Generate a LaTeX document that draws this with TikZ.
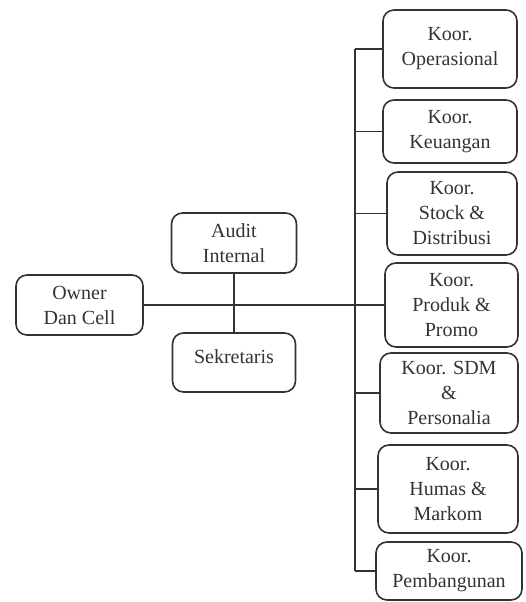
\documentclass[tikz,border=0pt]{standalone}
\usepackage{fontspec}
\setmainfont{Liberation Serif}
\begin{document}
\begin{tikzpicture}[x=1pt, y=-1pt,
  unit/.style={draw=black!80, line width=1.6pt, rounded corners=11pt, align=center,
    font=\fontsize{20}{25}\selectfont, text=black!80, inner sep=0pt},
  link/.style={draw=black!80, line width=1.6pt}]
  \useasboundingbox (0,0) rectangle (525,602);

  % --- owner, audit and secretary ---
  \node[unit, minimum width=127, minimum height=60] (owner) at (79.5,305) {Owner\\Dan Cell};
  \node[unit, minimum width=125, minimum height=60] (audit) at (234,243) {Audit\\Internal};
  \node[unit, minimum width=123, minimum height=59, text depth=11pt] (sek) at (234,362.5) {Sekretaris};

  % --- coordinators, top to bottom ---
  \node[unit, minimum width=134, minimum height=78] (ops) at (450,49)    {Koor.\\Operasional};
  \node[unit, minimum width=134, minimum height=63] (keu) at (450,131.5) {Koor.\\Keuangan};
  \node[unit, minimum width=130, minimum height=83] (stk) at (452,213.5) {Koor.\\Stock \&\\Distribusi};
  \node[unit, minimum width=133, minimum height=84] (pro) at (451.5,305) {Koor.\\Produk \&\\Promo};
  \node[unit, minimum width=138, minimum height=80] (sdm) at (449,393)   {Koor. SDM\\\&\\Personalia};
  \node[unit, minimum width=140, minimum height=88] (hum) at (448,489)   {Koor.\\Humas \&\\Markom};
  \node[unit, minimum width=146, minimum height=58] (pem) at (449,571)   {Koor.\\Pembangunan};

  % --- connectors ---
  \coordinate (trunk) at (355,0);
  \draw[link] (audit.south) -- (sek.north);
  \draw[link] (owner.east) -- (owner.east -| trunk);
  \draw[link] (ops.west -| trunk) -- (pem.west -| trunk);
  \foreach \n in {ops,keu,stk,pro,sdm,hum,pem}
    \draw[link] (\n.west -| trunk) -- (\n.west);
\end{tikzpicture}
\end{document}
